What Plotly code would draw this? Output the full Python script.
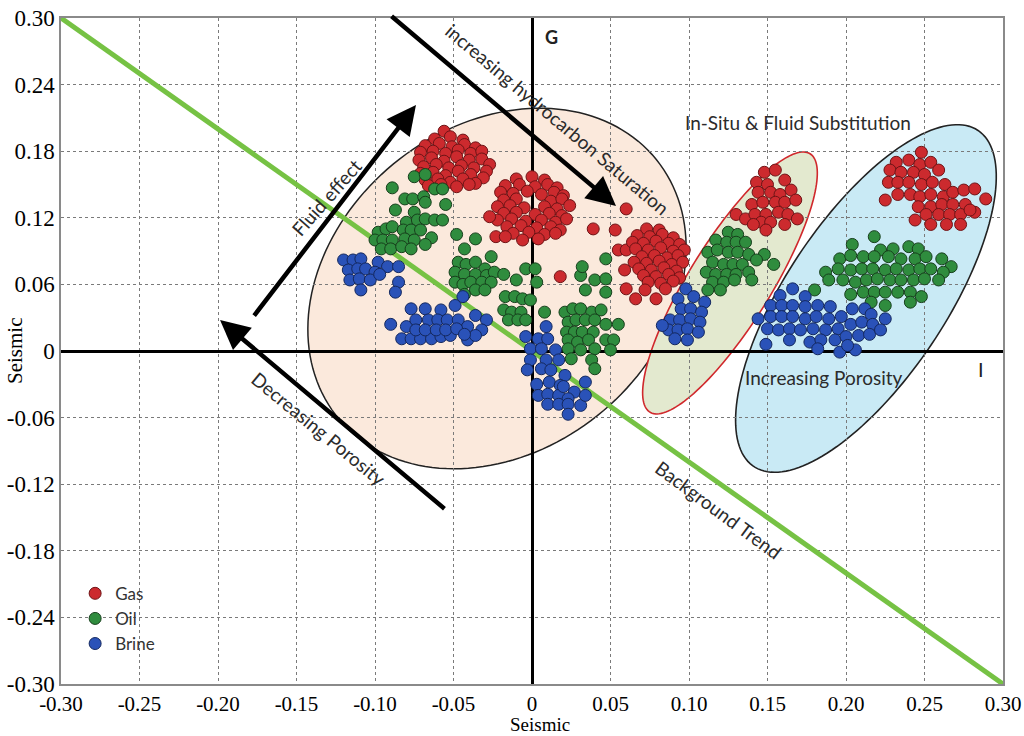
import numpy as np
import plotly.graph_objects as go

# ---------------- data ----------------
x_ticks = [-0.30, -0.25, -0.20, -0.15, -0.10, -0.05, 0.0, 0.05, 0.10, 0.15, 0.20, 0.25, 0.30]
x_tick_text = ["-0.30", "-0.25", "-0.20", "-0.15", "-0.10", "-0.05", "0", "0.05", "0.10", "0.15", "0.20", "0.25", "0.30"]
y_ticks = [0.30, 0.24, 0.18, 0.12, 0.06, 0.0, -0.06, -0.12, -0.18, -0.24, -0.30]
y_tick_text = ["0.30", "0.24", "0.18", "0.12", "0.06", "0", "-0.06", "-0.12", "-0.18", "-0.24", "-0.30"]

trend_x = [-0.30, 0.30]
trend_y = [0.30, -0.30]

gas_insitu_a = [(-0.056,0.198),(-0.062,0.191),(-0.052,0.193),(-0.044,0.190),
    (-0.068,0.185),(-0.059,0.187),(-0.051,0.184),(-0.043,0.186),(-0.036,0.183),
    (-0.071,0.179),(-0.063,0.180),(-0.055,0.178),(-0.047,0.181),(-0.039,0.178),(-0.032,0.180),
    (-0.072,0.172),(-0.064,0.174),(-0.056,0.171),(-0.048,0.175),(-0.040,0.172),(-0.032,0.173),(-0.027,0.168),
    (-0.069,0.166),(-0.061,0.168),(-0.053,0.165),(-0.045,0.167),(-0.037,0.165),(-0.029,0.162),
    (-0.071,0.160),(-0.063,0.161),(-0.055,0.158),(-0.047,0.162),(-0.039,0.159),(-0.031,0.156),
    (-0.068,0.154),(-0.060,0.155),(-0.052,0.152),(-0.044,0.155),(-0.036,0.151),
    (-0.066,0.149),(-0.058,0.150),(-0.048,0.148),(-0.040,0.150)]
gas_insitu_b = [(-0.010,0.155),(0.000,0.157),(0.008,0.154),
    (-0.017,0.149),(-0.008,0.150),(0.002,0.148),(0.010,0.150),(0.016,0.147),
    (-0.020,0.143),(-0.012,0.142),(-0.003,0.144),(0.006,0.141),(0.014,0.143),(0.020,0.140),
    (-0.018,0.136),(-0.010,0.137),(0.012,0.135),(0.019,0.137),
    (-0.022,0.130),(-0.014,0.131),(-0.005,0.129),(0.008,0.130),(0.016,0.128),(0.024,0.131),
    (-0.018,0.124),(-0.010,0.125),(0.002,0.123),(0.011,0.124),(0.019,0.122),
    (-0.022,0.118),(-0.013,0.119),(-0.004,0.117),(0.006,0.118),(0.015,0.116),(0.022,0.119),
    (-0.016,0.112),(-0.007,0.113),(0.003,0.111),(0.012,0.112),(0.018,0.109),
    (-0.012,0.106),(-0.002,0.107),(0.008,0.105),(0.015,0.106),
    (-0.006,0.100),(0.004,0.101),
    (-0.027,0.121),(-0.023,0.103),(-0.017,0.103),(0.039,0.110),(0.053,0.109),(0.060,0.128),
    (0.018,0.067),(0.055,0.091),(0.060,0.091)]
gas_insitu_c = [(0.073,0.110),(0.081,0.109),
    (0.067,0.104),(0.075,0.103),(0.083,0.105),(0.090,0.102),
    (0.064,0.098),(0.071,0.097),(0.079,0.099),(0.087,0.097),(0.094,0.096),
    (0.066,0.092),(0.074,0.091),(0.082,0.093),(0.090,0.090),(0.097,0.091),
    (0.070,0.085),(0.078,0.086),(0.086,0.084),(0.093,0.086),
    (0.065,0.080),(0.073,0.079),(0.081,0.081),(0.089,0.078),(0.096,0.080),
    (0.068,0.074),(0.076,0.073),(0.084,0.075),(0.092,0.072),
    (0.071,0.068),(0.079,0.067),(0.087,0.069),(0.094,0.066),
    (0.074,0.062),(0.082,0.061),(0.090,0.063),
    (0.072,0.055),(0.085,0.056),(0.060,0.056),(0.066,0.047),(0.079,0.047),(0.059,0.073)]
gas_sub_1 = [(0.148,0.161),(0.155,0.163),(0.143,0.152),(0.150,0.150),(0.161,0.154),(0.144,0.143),
    (0.152,0.143),(0.158,0.141),(0.165,0.145),(0.140,0.132),(0.147,0.134),(0.155,0.134),(0.161,0.134),
    (0.168,0.136),(0.130,0.123),(0.136,0.119),(0.142,0.123),(0.149,0.123),(0.157,0.125),(0.163,0.123),
    (0.169,0.119),(0.146,0.116),(0.152,0.116),(0.161,0.114),(0.149,0.109),(0.141,0.114)]
gas_sub_2 = [(0.248,0.179),(0.232,0.170),(0.240,0.172),(0.247,0.168),(0.254,0.170),(0.228,0.163),
    (0.235,0.161),(0.243,0.161),(0.250,0.159),(0.259,0.163),(0.227,0.152),(0.233,0.152),(0.240,0.152),
    (0.248,0.150),(0.255,0.152),(0.263,0.150),(0.225,0.136),(0.233,0.141),(0.241,0.141),(0.247,0.139),
    (0.254,0.141),(0.262,0.139),(0.268,0.143),(0.275,0.145),(0.282,0.146),(0.289,0.137),(0.246,0.130),
    (0.254,0.130),(0.261,0.132),(0.268,0.132),(0.276,0.132),(0.282,0.125),(0.244,0.118),(0.251,0.123),
    (0.259,0.123),(0.266,0.123),(0.273,0.123),(0.254,0.114),(0.264,0.114),(0.273,0.114),(0.279,0.127)]

oil_insitu_a = [(-0.075,0.157),(-0.068,0.159),(-0.089,0.147),(-0.062,0.146),(-0.057,0.146),(-0.081,0.137),
    (-0.076,0.137),(-0.069,0.139),(-0.068,0.134),(-0.055,0.132),(-0.087,0.127),(-0.080,0.116),(-0.075,0.125),
    (-0.073,0.118),(-0.068,0.119),(-0.062,0.118),(-0.057,0.118),(-0.098,0.107),(-0.093,0.110),(-0.089,0.112),
    (-0.082,0.109),(-0.077,0.109),(-0.071,0.109),(-0.064,0.102),(-0.100,0.100),(-0.095,0.100),(-0.089,0.100),
    (-0.081,0.101),(-0.075,0.100),(-0.068,0.096),(-0.096,0.092),(-0.090,0.092),(-0.083,0.094),(-0.077,0.092)]
oil_insitu_b = [(-0.048,0.105),(-0.036,0.101),(-0.043,0.092),(-0.047,0.080),(-0.042,0.078),(-0.036,0.080),
    (-0.026,0.085),(-0.030,0.074),(-0.049,0.071),(-0.043,0.069),(-0.036,0.069),(-0.029,0.068),(-0.024,0.071),
    (-0.018,0.069),(-0.049,0.062),(-0.044,0.060),(-0.039,0.062),(-0.032,0.062),(-0.026,0.062),(-0.036,0.055),
    (-0.030,0.055),(-0.043,0.051)]
oil_insitu_c = [(-0.010,0.064),(-0.004,0.074),(0.002,0.074),(0.003,0.062),(-0.017,0.049),(-0.011,0.049),
    (-0.006,0.047),(-0.001,0.046),(-0.018,0.037),(-0.013,0.035),(-0.007,0.035),(-0.015,0.028),(-0.009,0.028),
    (-0.004,0.028),(0.008,0.035)]
oil_insitu_d = [(0.021,0.035),(0.026,0.038),(0.031,0.038),(0.038,0.035),(0.044,0.037),(0.023,0.026),
    (0.028,0.028),(0.034,0.028),(0.040,0.028),(0.047,0.024),(0.055,0.024),(0.022,0.017),(0.027,0.017),
    (0.032,0.017),(0.039,0.017),(0.023,0.010),(0.029,0.008),(0.036,0.010),(0.047,0.010),(0.052,0.010),
    (0.023,0.002),(0.031,0.001),(0.040,0.002),(0.050,0.001),(0.025,-0.007),(0.038,-0.008),(0.040,-0.016),
    (0.031,0.068),(0.040,0.064),(0.047,0.065),(0.034,0.055),(0.047,0.053),(0.047,0.083),(0.032,0.076)]
oil_sub_1 = [(0.125,0.107),(0.131,0.105),(0.117,0.100),(0.124,0.098),(0.130,0.098),(0.136,0.098),
    (0.112,0.089),(0.118,0.091),(0.125,0.089),(0.131,0.089),(0.138,0.087),(0.148,0.087),(0.115,0.080),
    (0.122,0.078),(0.128,0.078),(0.134,0.078),(0.143,0.082),(0.154,0.078),(0.111,0.071),(0.117,0.069),
    (0.124,0.069),(0.130,0.069),(0.138,0.071),(0.115,0.062),(0.122,0.062),(0.129,0.064),(0.140,0.064),
    (0.112,0.055),(0.120,0.055)]
oil_sub_2 = [(0.218,0.103),(0.204,0.096),(0.222,0.091),(0.230,0.092),(0.240,0.094),(0.246,0.092),
    (0.196,0.083),(0.203,0.086),(0.211,0.085),(0.218,0.085),(0.227,0.085),(0.235,0.083),(0.244,0.083),
    (0.251,0.085),(0.261,0.083),(0.267,0.076),(0.187,0.071),(0.195,0.074),(0.203,0.073),(0.210,0.074),
    (0.217,0.074),(0.225,0.073),(0.232,0.074),(0.240,0.073),(0.247,0.074),(0.254,0.074),(0.262,0.071),
    (0.180,0.055),(0.189,0.064),(0.198,0.064),(0.206,0.062),(0.213,0.064),(0.220,0.065),(0.228,0.064),
    (0.235,0.064),(0.243,0.064),(0.250,0.065),(0.259,0.064),(0.203,0.051),(0.211,0.053),(0.218,0.053),
    (0.225,0.053),(0.233,0.053),(0.241,0.053),(0.248,0.049),(0.216,0.044),(0.225,0.041),(0.241,0.044)]

brine_insitu_a = [(-0.120,0.082),(-0.114,0.082),(-0.109,0.083),(-0.098,0.080),(-0.117,0.073),(-0.111,0.074),
    (-0.106,0.074),(-0.100,0.071),(-0.092,0.076),(-0.085,0.076),(-0.116,0.064),(-0.110,0.065),(-0.103,0.064),
    (-0.085,0.062),(-0.109,0.055),(-0.087,0.053),(-0.097,0.069)]
brine_insitu_b = [(-0.090,0.024),(-0.077,0.038),(-0.068,0.038),(-0.058,0.037),(-0.049,0.041),(-0.044,0.049),
    (-0.036,0.032),(-0.029,0.028),(-0.080,0.022),(-0.074,0.028),(-0.066,0.028),(-0.060,0.028),(-0.054,0.028),
    (-0.047,0.028),(-0.041,0.022),(-0.032,0.019),(-0.083,0.011),(-0.077,0.011),(-0.071,0.011),(-0.064,0.011),
    (-0.058,0.013),(-0.052,0.014),(-0.041,0.010),(-0.036,0.014),(-0.074,0.019),(-0.068,0.019),(-0.061,0.019),
    (-0.055,0.019),(-0.048,0.020),(-0.043,0.015)]
brine_insitu_c = [(-0.004,0.013),(0.004,0.011),(0.010,0.011),(0.009,0.022),(-0.001,0.002),(0.006,0.002),
    (0.015,0.001),(-0.001,-0.008),(0.009,-0.008),(0.017,-0.008),(-0.003,-0.017),(0.006,-0.016),(0.012,-0.017),
    (0.021,-0.022),(0.003,-0.030),(0.011,-0.028),(0.018,-0.031),(0.027,-0.037),(0.034,-0.028),(0.004,-0.040),
    (0.010,-0.039),(0.017,-0.040),(0.023,-0.043),(0.010,-0.048),(0.017,-0.048),(0.023,-0.048),(0.031,-0.049),
    (0.023,-0.057),(0.034,-0.040),(0.020,-0.032)]
brine_sub_1 = [(0.098,0.056),(0.093,0.047),(0.103,0.049),(0.110,0.044),(0.095,0.038),(0.101,0.038),
    (0.108,0.035),(0.088,0.028),(0.094,0.028),(0.101,0.029),(0.107,0.026),(0.087,0.019),(0.093,0.019),
    (0.099,0.020),(0.106,0.017),(0.091,0.011),(0.099,0.010),(0.083,0.023)]
brine_sub_2 = [(0.166,0.056),(0.158,0.050),(0.174,0.049),(0.152,0.041),(0.159,0.041),(0.166,0.041),
    (0.174,0.040),(0.182,0.041),(0.190,0.040),(0.144,0.029),(0.152,0.031),(0.159,0.031),(0.166,0.031),
    (0.174,0.029),(0.181,0.031),(0.189,0.029),(0.197,0.031),(0.204,0.038),(0.212,0.038),(0.216,0.033),
    (0.150,0.020),(0.157,0.019),(0.164,0.020),(0.171,0.019),(0.179,0.020),(0.187,0.019),(0.195,0.020),
    (0.203,0.024),(0.210,0.026),(0.217,0.024),(0.225,0.029),(0.149,0.006),(0.164,0.010),(0.177,0.008),
    (0.184,0.010),(0.193,0.010),(0.200,0.013),(0.208,0.014),(0.215,0.015),(0.222,0.019),(0.196,-0.001),
    (0.206,0.001),(0.182,0.002),(0.201,0.005)]

gas_points = gas_insitu_a + gas_insitu_b + gas_insitu_c + gas_sub_1 + gas_sub_2
oil_points = oil_insitu_a + oil_insitu_b + oil_insitu_c + oil_insitu_d + oil_sub_1 + oil_sub_2
brine_points = brine_insitu_a + brine_insitu_b + brine_insitu_c + brine_sub_1 + brine_sub_2

# ---------------- geometry ----------------
W, H = 1024, 736
ML, MR, MT, MB = 61, 21, 18, 52
PW, PH = W - ML - MR, H - MT - MB
PX_X = PW / 0.6
PY_Y = PH / 0.6

def ellipse_path(cx, cy, a_px, b_px, ang_deg, n=160):
    t = np.linspace(0, 2 * np.pi, n)
    phi = np.radians(ang_deg)
    dx = a_px * np.cos(t) * np.cos(phi) - b_px * np.sin(t) * np.sin(phi)
    dy = a_px * np.cos(t) * np.sin(phi) + b_px * np.sin(t) * np.cos(phi)
    xs = cx + dx / PX_X
    ys = cy + dy / PY_Y
    return "M " + " L ".join(f"{x:.5f},{y:.5f}" for x, y in zip(xs, ys)) + " Z"

fig = go.Figure()

shapes = [
    dict(type="path", path=ellipse_path(-0.0223, 0.0563, 205, 162, 39), xref="x", yref="y",
         fillcolor="#fbe9dc", line=dict(color="#222222", width=1.5), layer="below"),
    dict(type="path", path=ellipse_path(0.1261, 0.0613, 152, 41, 58.2), xref="x", yref="y",
         fillcolor="#e3e9cf", line=dict(color="#d0282c", width=1.6), layer="below"),
    dict(type="path", path=ellipse_path(0.2127, 0.0473, 202, 80, 56.3), xref="x", yref="y",
         fillcolor="#c9eaf5", line=dict(color="#222222", width=1.6), layer="below"),
]

fig.add_trace(go.Scatter(x=trend_x, y=trend_y, mode="lines",
                         line=dict(color="#76c244", width=5), showlegend=False, hoverinfo="skip"))

def add_fluid(points, name, fill, edge):
    fig.add_trace(go.Scatter(
        x=[p[0] for p in points], y=[p[1] for p in points], mode="markers", name=name,
        marker=dict(size=12, color=fill, line=dict(color=edge, width=1))))

add_fluid(gas_points, "Gas", "#cc2a2e", "#6e1416")
add_fluid(oil_points, "Oil", "#2f8c3e", "#173f1c")
add_fluid(brine_points, "Brine", "#2a52b8", "#14285e")

txt_font = dict(family="Lato, Open Sans, sans-serif", size=19, color="#2b2b2b")
arrow = dict(xref="x", yref="y", axref="x", ayref="y", text="", showarrow=True,
             arrowhead=2, arrowsize=1.3, arrowwidth=4.5, arrowcolor="black")
annotations = [
    dict(x=-0.0739, y=0.2216, ax=-0.1777, ay=0.0306, **arrow),
    dict(x=0.0535, y=0.1306, ax=-0.0904, ay=0.3027, **arrow),
    dict(x=-0.1987, y=0.0279, ax=-0.0548, ay=-0.1432, **arrow),
    dict(x=0.0121, y=0.2829, text="<b>G</b>", showarrow=False, font=dict(family="Lato, sans-serif", size=18, color="#222")),
    dict(x=0.286, y=-0.0162, text="I", showarrow=False, font=dict(family="Lato, sans-serif", size=20, color="#222")),
    dict(x=0.1694, y=0.2063, text="In-Situ &amp; Fluid Substitution", showarrow=False, font=txt_font),
    dict(x=0.186, y=-0.0243, text="Increasing Porosity", showarrow=False, font=txt_font),
    dict(x=-0.1312, y=0.1387, text="Fluid effect", showarrow=False, textangle=-48.6, font=txt_font),
    dict(x=0.0165, y=0.2085, text="increasing hydrocarbon Saturation", showarrow=False, textangle=40, font=txt_font),
    dict(x=-0.1357, y=-0.0694, text="Decreasing Porosity", showarrow=False, textangle=39.3, font=txt_font),
    dict(x=0.1185, y=-0.1432, text="Background Trend", showarrow=False, textangle=36.3, font=txt_font),
    dict(x=(540 - ML) / PW, y=(MT + PH - 724) / PH, xref="paper", yref="paper", text="Seismic",
         xanchor="center", yanchor="middle", showarrow=False, borderpad=0,
         font=dict(family="Liberation Serif, serif", size=19, color="black")),
    dict(x=(15 - ML) / PW, y=(MT + PH - 351) / PH, xref="paper", yref="paper", text="Seismic",
         xanchor="center", yanchor="middle", textangle=-90, showarrow=False,
         font=dict(family="Liberation Serif, serif", size=21, color="black")),
]

axis_common = dict(
    range=[-0.30, 0.30], automargin=False, showgrid=True, gridcolor="#7a7a7a", gridwidth=1, griddash="dot",
    zeroline=True, zerolinecolor="black", zerolinewidth=3,
    showline=True, mirror=True, linecolor="#8a8a8a", linewidth=1.5,
    ticks="", fixedrange=True,
)

fig.update_layout(
    width=W, height=H, margin=dict(l=ML, r=MR, t=MT, b=MB, autoexpand=False),
    paper_bgcolor="white", plot_bgcolor="white",
    xaxis=dict(**axis_common, tickmode="array", tickvals=x_ticks, ticktext=x_tick_text,
               tickfont=dict(family="Liberation Serif, serif", size=21, color="black")),
    yaxis=dict(**axis_common, tickmode="array", tickvals=y_ticks, ticktext=y_tick_text,
               tickfont=dict(family="Liberation Serif, serif", size=23, color="black")),
    shapes=shapes, annotations=annotations,
    legend=dict(x=0.015, y=0.1625, xanchor="left", yanchor="top", bgcolor="rgba(0,0,0,0)",
                font=dict(family="Lato, sans-serif", size=17, color="#333"), tracegroupgap=0),
    showlegend=True,
)

fig.write_html("out.html", config={"displayModeBar": False},
               post_script="document.body.style.margin='0px';document.body.style.overflow='hidden';")
